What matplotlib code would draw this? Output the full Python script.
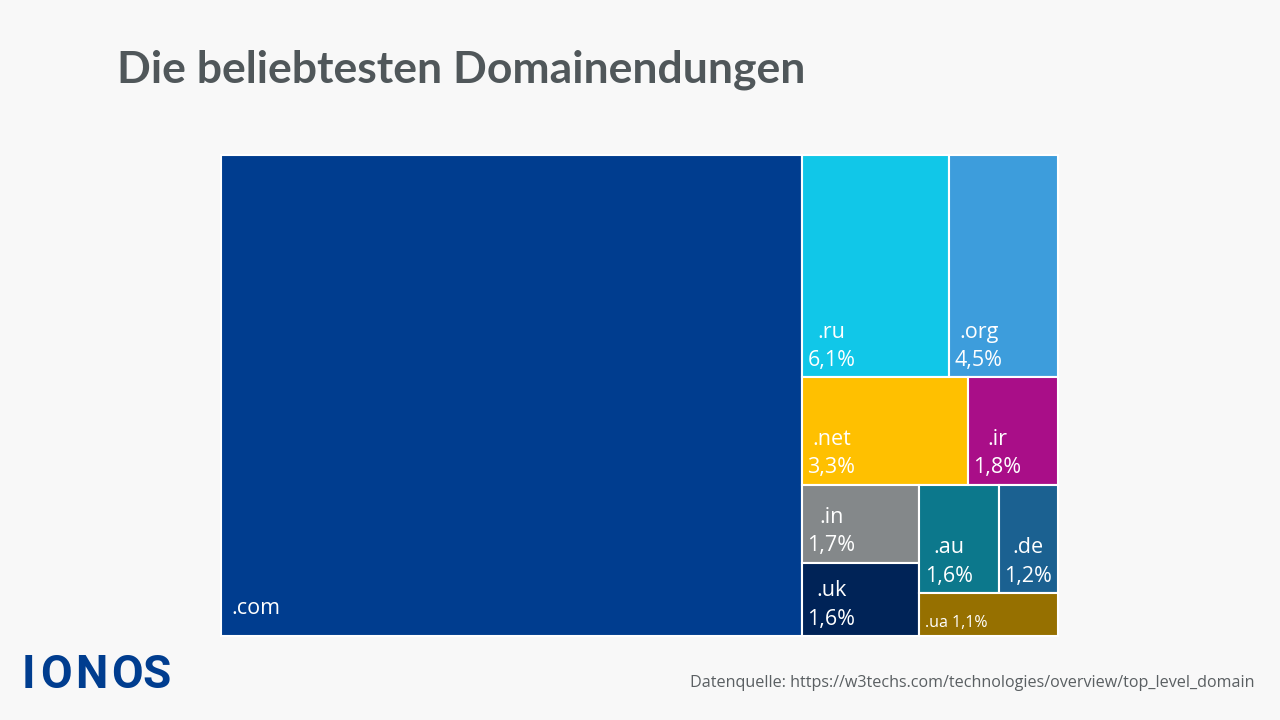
import matplotlib
matplotlib.use('Agg')
import matplotlib.pyplot as plt
from matplotlib.patches import Rectangle

# domain endings, share in percent (.com has no printed share, read from its area)
names = ['.com', '.ru', '.org', '.net', '.ir', '.in', '.uk', '.au', '.de', '.ua']
shares = [52.0, 6.1, 4.5, 3.3, 1.8, 1.7, 1.6, 1.6, 1.2, 1.1]
colors = ['#003d8f', '#11c7e8', '#3d9ddc', '#ffc000', '#a90e88',
          '#84888a', '#002357', '#0c788c', '#1b6191', '#967000']
share_labels = ['', '6,1%', '4,5%', '3,3%', '1,8%', '1,7%', '1,6%', '1,6%', '1,2%', '1,1%']

# how the tiles are grouped, nested lists alternate between columns and rows
groups = [0, [[1, 2], [3, 4], [[5, 6], [[7, 8], 9]]]]

title = 'Die beliebtesten Domainendungen'
source = 'Datenquelle: https://w3techs.com/technologies/overview/top_level_domain'
logo_letters = ['I', 'O', 'N', 'O', 'S']
logo_center = [28, 56, 91, 127, 157]

BG = '#f8f8f8'
PX = 0.72  # one pixel in points at dpi 100


def group_sum(node):
    if isinstance(node, list):
        return sum(group_sum(n) for n in node)
    return shares[node]


# Split the box along one side by value, then turn 90 degrees for the children
def layout(node, x, y, w, h, horizontal, out):
    if not isinstance(node, list):
        out[node] = (x, y, w, h)
        return
    total = group_sum(node)
    pos_x = x
    pos_y = y + h
    for child in node:
        part = group_sum(child) / total
        if horizontal:
            layout(child, pos_x, y, w * part, h, False, out)
            pos_x += w * part
        else:
            pos_y -= h * part
            layout(child, x, pos_y, w, h * part, True, out)


fig = plt.figure(figsize=(12.8, 7.2), dpi=100, facecolor=BG)

ax = fig.add_axes([220.5 / 1280, 1 - 636 / 720, 837.5 / 1280, 481.5 / 720])
ax.set_xlim(0, 1)
ax.set_ylim(0, 1)
ax.axis('off')

boxes = {}
layout(groups, 0, 0, 1, 1, True, boxes)

for i, name in enumerate(names):
    x, y, w, h = boxes[i]
    ax.add_patch(Rectangle((x, y), w, h, facecolor=colors[i], edgecolor='white',
                           linewidth=1.5, clip_on=False))
    if name == '.com':
        ax.annotate(name, (x, y), xytext=(10.5 * PX, 22 * PX), textcoords='offset points',
                    color='white', fontsize=15.5, family='Open Sans', ha='left', va='baseline')
    elif name == '.ua':
        ax.annotate(name + ' ' + share_labels[i], (x, y), xytext=(5.5 * PX, 9 * PX),
                    textcoords='offset points', color='white', fontsize=11.5,
                    family='Open Sans', ha='left', va='baseline')
    else:
        ax.annotate(name + '\n' + share_labels[i], (x, y), xytext=(5.5 * PX, 11.5 * PX),
                    textcoords='offset points', color='white', fontsize=15.5,
                    family='Open Sans', ha='left', va='baseline', multialignment='center',
                    linespacing=1.46)

fig.text(117 / 1280, 1 - 82 / 720, title, color='#50575a', fontsize=32,
         family='Lato', fontweight='bold', ha='left', va='baseline')
fig.text(1254 / 1280, 1 - 687 / 720, source, color='#5a5f62', fontsize=11.62,
         family='Open Sans', ha='right', va='baseline')

# logo letters one by one because of the wide tracking
for letter, center in zip(logo_letters, logo_center):
    fig.text(center / 1280, 1 - 688 / 720, letter, color='#003d8f', fontsize=33,
             family='Roboto', fontweight='bold', ha='center', va='baseline')

fig.savefig('out.png', dpi=100, facecolor=BG)
